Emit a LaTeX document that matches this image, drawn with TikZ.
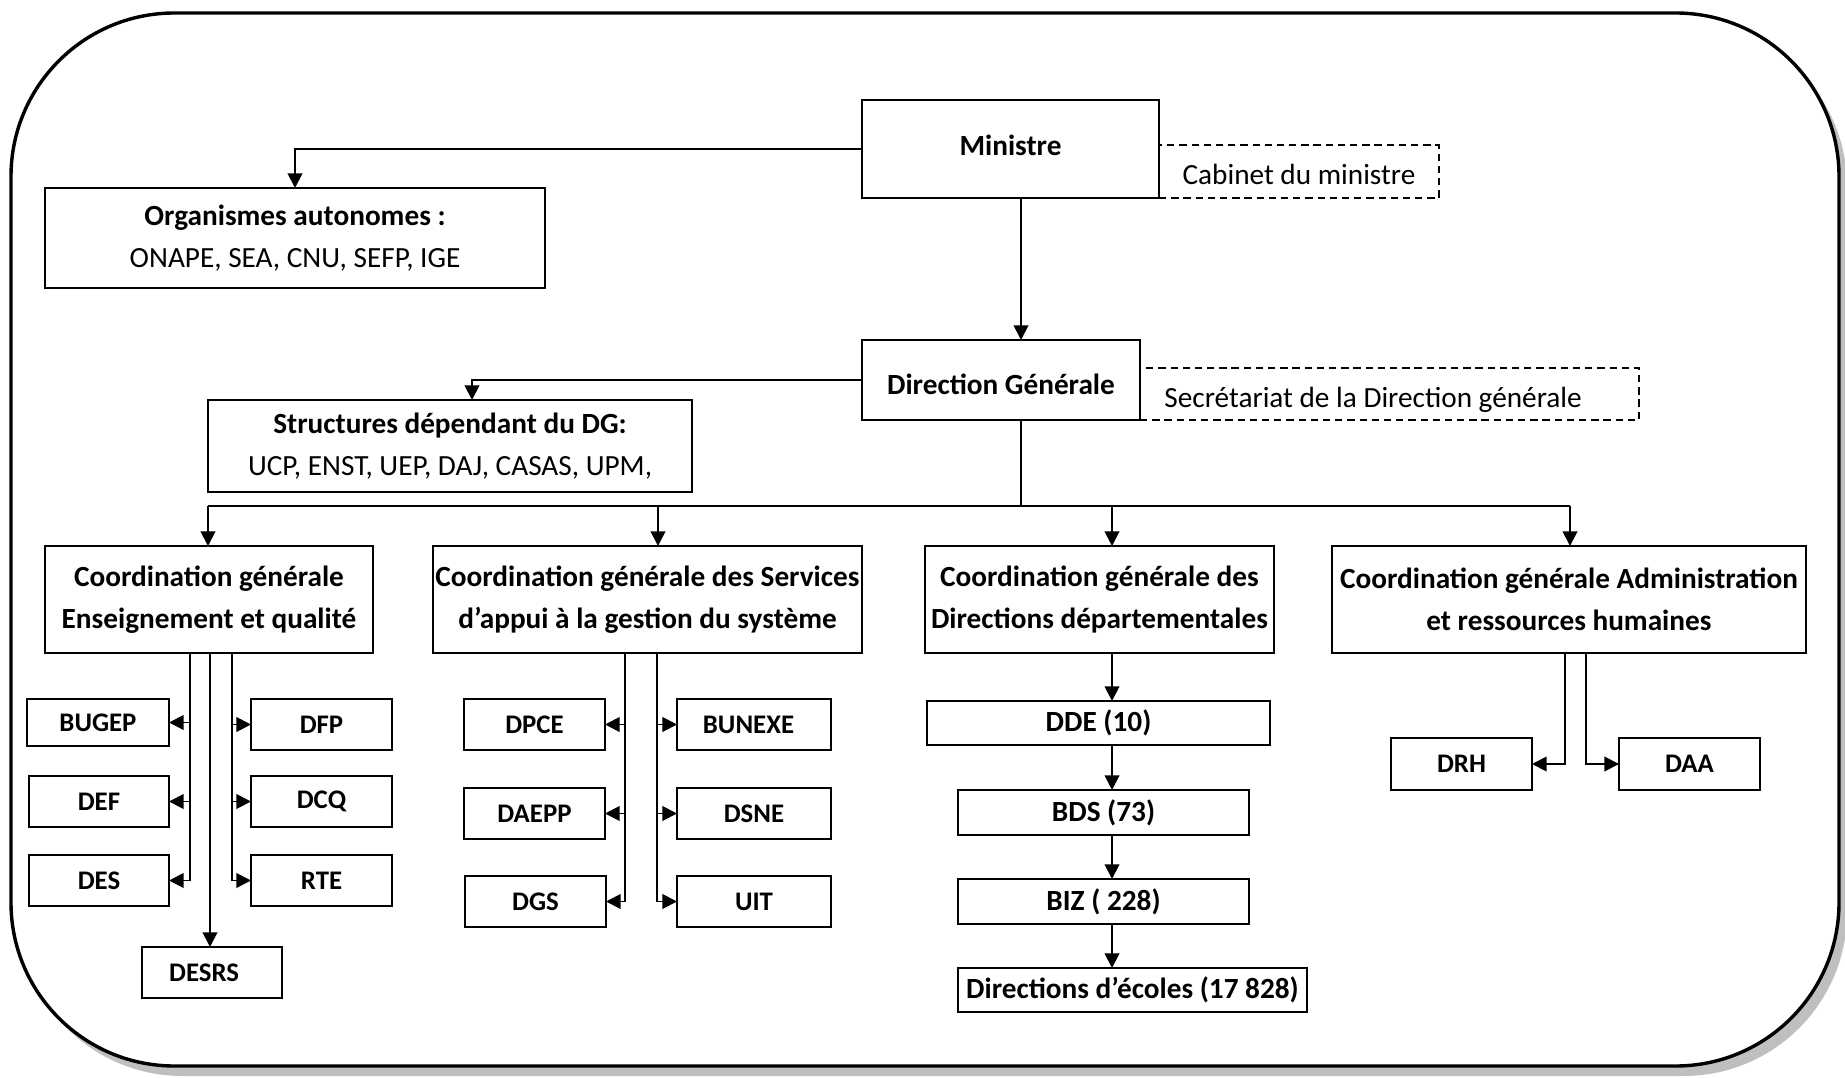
\documentclass[tikz,border=0pt]{standalone}
\usepackage{fontspec}
\setmainfont{Carlito}
\usetikzlibrary{arrows.meta}
\newcommand\obox[7][]{\node[box,#1,minimum width={(#5-#3)*0.41pt},minimum height={(#6-#4)*0.41pt}] (#2) at ({(#3+#5)/2},{(#4+#6)/2}) {#7};}
\newcommand\shiftv[2]{\raisebox{#1}[\height][\depth]{#2}}
\begin{document}
\begin{tikzpicture}[x=0.41pt,y=-0.41pt,
  box/.style={draw, line width=0.8pt, inner sep=0pt, outer sep=0pt, align=center, font=\fontsize{12}{17.2}\selectfont},
  bigtxt/.style={font=\bfseries\fontsize{12}{17.2}\selectfont},
  smalltxt/.style={font=\bfseries\fontsize{11}{13}\selectfont},
  dbox/.style={line width=0.6pt, dash pattern=on 3pt off 2pt, font=\fontsize{12}{14}\selectfont},
  link/.style={line width=0.8pt},
  arr/.style={line width=0.8pt, -{Triangle[length=6pt,width=6pt]}},
  frame/.style={line width=1.4pt, rounded corners=67pt}
]
\useasboundingbox (0,0) rectangle (1845,1078);
\begin{scope}
\clip (0,0) rectangle (1845,1078);
\fill[black!25, rounded corners=67pt] (19,23) rectangle (1847,1076);
\draw[frame, fill=white] (11,13) rectangle (1839,1066);
\end{scope}

% top level
\obox[bigtxt]{min}{862}{100}{1159}{198}{\shiftv{1.4pt}{Ministre}}
\obox[dbox]{cab}{1159}{145}{1439}{198}{\shiftv{-1.4pt}{Cabinet du ministre}}
\obox[bigtxt]{org}{45}{188}{545}{288}{Organismes autonomes :\\{\mdseries ONAPE, SEA, CNU, SEFP, IGE}}
\obox[bigtxt]{dg}{862}{340}{1140}{420}{\shiftv{-1.8pt}{Direction Générale}}
\obox[dbox]{sec}{1140}{368}{1639}{420}{\shiftv{-2.2pt}{Secrétariat de la Direction générale}\hspace*{13.5pt}}
\obox[bigtxt]{str}{208}{400}{692}{492}{Structures dépendant du DG:\\{\mdseries UCP, ENST, UEP, DAJ, CASAS, UPM,}}

% coordinations
\obox[bigtxt]{cg1}{45}{546}{373}{653}{Coordination générale\\Enseignement et qualité}
\obox[bigtxt]{cg2}{433}{546}{862}{653}{Coordination générale des Services\\d’appui à la gestion du système}
\obox[bigtxt]{cg3}{925}{546}{1274}{653}{Coordination générale des\\Directions départementales}
\obox[bigtxt]{cg4}{1332}{546}{1806}{653}{Coordination générale Administration\\et ressources humaines}

% CG1 children
\obox[smalltxt]{bugep}{27}{699}{169}{746}{BUGEP}
\obox[smalltxt]{dfp}{251}{699}{392}{750}{DFP}
\obox[smalltxt]{def}{29}{776}{169}{827}{DEF}
\obox[smalltxt]{dcq}{251}{776}{392}{827}{DCQ}
\obox[smalltxt]{des}{29}{855}{169}{906}{DES}
\obox[smalltxt]{rte}{251}{855}{392}{906}{RTE}
\obox[smalltxt]{desrs}{142}{947}{282}{998}{DESRS\hspace*{6.5pt}}

% CG2 children
\obox[smalltxt]{dpce}{464}{699}{605}{750}{DPCE}
\obox[smalltxt]{bunexe}{677}{699}{831}{750}{BUNEXE\hspace*{4.5pt}}
\obox[smalltxt]{daepp}{464}{788}{605}{839}{DAEPP}
\obox[smalltxt]{dsne}{677}{788}{831}{839}{DSNE}
\obox[smalltxt]{dgs}{465}{876}{606}{927}{DGS}
\obox[smalltxt]{uit}{677}{876}{831}{927}{UIT}

% CG3 chain
\obox[bigtxt]{dde}{927}{701}{1270}{745}{DDE (10)}
\obox[bigtxt]{bds}{958}{790}{1249}{835}{BDS (73)}
\obox[bigtxt]{biz}{958}{879}{1249}{924}{BIZ ( 228)}
\obox[bigtxt]{dec}{958}{968}{1307}{1012}{Directions d’écoles (17 828)}

% CG4 children
\obox[smalltxt]{drh}{1391}{738}{1532}{790}{DRH}
\obox[smalltxt]{daa}{1619}{738}{1760}{790}{DAA}

% helper coordinates
\coordinate (tk) at (1021,506);
\coordinate (sa) at (472,0);
\coordinate (b1) at (208,0);
\coordinate (b2) at (658,0);
\coordinate (b3) at (1112,0);
\coordinate (b4) at (1570,0);
\coordinate (l1) at (190,0);
\coordinate (m1) at (210,0);
\coordinate (r1) at (232,0);
\coordinate (l2) at (625,0);
\coordinate (r2) at (657,0);
\coordinate (l4) at (1565,0);
\coordinate (r4) at (1586,0);

% connectors
\draw[arr] (min.west) -| (org.north);
\draw[arr] (min.south -| tk) -- (dg.north -| tk);
\draw[arr] (dg.west) -| (str.north -| sa);
\draw[link] (dg.south -| tk) -- (tk);
\draw[link] (tk -| b1) -- (tk -| b4);
\foreach \b/\n in {b1/cg1,b2/cg2,b3/cg3,b4/cg4} \draw[arr] (tk -| \b) -- (\n.north -| \b);

\draw[link] (cg1.south -| l1) -- (des.east -| l1);
\foreach \n in {bugep,def,des} \draw[arr] (\n.east -| l1) -- (\n.east);
\draw[link] (cg1.south -| r1) -- (rte.west -| r1);
\foreach \n in {dfp,dcq,rte} \draw[arr] (\n.west -| r1) -- (\n.west);
\draw[arr] (cg1.south -| m1) -- (desrs.north -| m1);

\draw[link] (cg2.south -| l2) -- (dgs.east -| l2);
\foreach \n in {dpce,daepp,dgs} \draw[arr] (\n.east -| l2) -- (\n.east);
\draw[link] (cg2.south -| r2) -- (uit.west -| r2);
\foreach \n in {bunexe,dsne,uit} \draw[arr] (\n.west -| r2) -- (\n.west);

\draw[arr] (cg3.south -| b3) -- (dde.north -| b3);
\draw[arr] (dde.south -| b3) -- (bds.north -| b3);
\draw[arr] (bds.south -| b3) -- (biz.north -| b3);
\draw[arr] (biz.south -| b3) -- (dec.north -| b3);

\draw[arr] (cg4.south -| l4) |- (drh.east);
\draw[arr] (cg4.south -| r4) |- (daa.west);
\end{tikzpicture}
\end{document}
